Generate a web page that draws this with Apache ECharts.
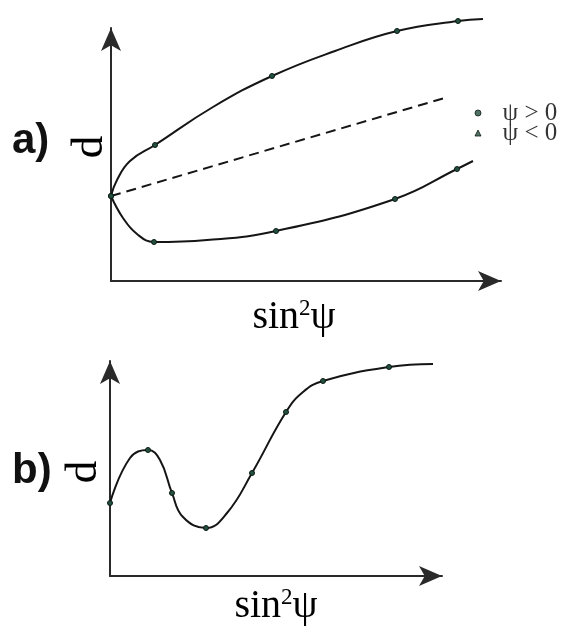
<!DOCTYPE html>
<html><head><meta charset="utf-8">
<script src="https://cdn.jsdelivr.net/npm/echarts@6/dist/echarts.min.js"></script>
<style>html,body{margin:0;padding:0;background:#fff}#c{width:563px;height:630px}</style>
</head><body><div id="c"></div>
<script>
// Panel a) — arbitrary units (sin²ψ, d)
const aUpperX = [0, 6, 19, 44, 102, 161, 224, 286, 347, 372];
const aUpperY = [85, 101, 120, 136, 174, 205, 230, 250, 260, 262];
const aUpperMarked = [0, 3, 5, 7, 8];
const aLowerX = [0, 12, 26, 43, 96, 165, 284, 346, 362];
const aLowerY = [85, 63, 47, 39, 41, 50, 82, 112, 120];
const aLowerMarked = [0, 3, 5, 6, 7];
const aDashX = [0, 337];
const aDashY = [85, 184];
const legendX = [367, 367];
const legendY = [168, 148];
const legendLabels = ['ψ > 0', 'ψ < 0'];
const legendSymbols = ['circle', 'triangle'];
// Panel b)
const bX = [0, 20, 38, 50, 62, 73, 96, 117, 142, 176, 193, 213, 279, 323];
const bY = [73, 118, 126, 116, 83, 59, 48, 63, 103, 164, 184, 195, 209, 212];
const bMarked = [0, 2, 4, 6, 8, 9, 11, 12];

const INK = '#151515';
const AXIS = '#2a2a2a';
const DOT = '#24503f';
const serif = 'Liberation Serif';
function build(xs, ys, marked) {
  return xs.map((x, i) => marked.includes(i)
    ? { value: [x, ys[i]] }
    : { value: [x, ys[i]], symbol: 'none' });
}
const nameRich = {
  a: { fontFamily: serif, fontSize: 40, color: '#000' },
  s: { fontFamily: serif, fontSize: 23, color: '#000', verticalAlign: 'top' }
};
function axisPair(gi, xmax, ymax, xNameGap, xPad) {
  const line = { show: true, lineStyle: { color: AXIS, width: 2 }, symbol: ['none', 'arrow'], symbolSize: [15, 23] };
  return {
    x: { type: 'value', gridIndex: gi, min: 0, max: xmax, axisLine: line,
      axisTick: { show: false }, axisLabel: { show: false }, splitLine: { show: false },
      name: '{a|sin}{s|2}{a|ψ}', nameLocation: 'middle', nameGap: xNameGap,
      nameTextStyle: { padding: xPad, rich: nameRich } },
    y: { type: 'value', gridIndex: gi, min: 0, max: ymax, axisLine: line,
      axisTick: { show: false }, axisLabel: { show: false }, splitLine: { show: false } }
  };
}
const A = axisPair(0, 390, 253, 16, [0, 24, 0, 0]);
const B = axisPair(1, 332, 215, 10, [0, 0, 0, 0]);
const lineBase = { type: 'line', smooth: 0.45, clip: false, symbol: 'circle', symbolSize: 5,
  lineStyle: { color: INK, width: 2 }, itemStyle: { color: DOT, borderColor: '#0a1a12', borderWidth: 1 },
  z: 3, animation: false };

const option = {
  animation: false,
  grid: [
    { left: 111, top: 28, width: 390, height: 253 },
    { left: 110, top: 361, width: 332, height: 215 }
  ],
  xAxis: [A.x, B.x],
  yAxis: [A.y, B.y],
  graphic: [
    { type: 'text', x: 12, y: 141, style: { text: 'a)', font: 'bold 42px "Liberation Sans"', fill: '#111', textVerticalAlign: 'middle' } },
    { type: 'text', x: 12, y: 471, style: { text: 'b)', font: 'bold 42px "Liberation Sans"', fill: '#111', textVerticalAlign: 'middle' } },
    { type: 'text', x: 90, y: 147, rotation: Math.PI / 2, style: { text: 'd', font: '45px "Liberation Serif"', fill: '#000', textAlign: 'center', textVerticalAlign: 'middle' } },
    { type: 'text', x: 84, y: 472, rotation: Math.PI / 2, style: { text: 'd', font: '45px "Liberation Serif"', fill: '#000', textAlign: 'center', textVerticalAlign: 'middle' } }
  ],
  series: [
    Object.assign({}, lineBase, { xAxisIndex: 0, yAxisIndex: 0, data: build(aUpperX, aUpperY, aUpperMarked) }),
    Object.assign({}, lineBase, { xAxisIndex: 0, yAxisIndex: 0, data: build(aLowerX, aLowerY, aLowerMarked) }),
    { type: 'line', xAxisIndex: 0, yAxisIndex: 0, symbol: 'none', clip: false,
      lineStyle: { color: INK, width: 2, type: [10, 6] }, data: aDashX.map((x, i) => [x, aDashY[i]]) },
    { type: 'scatter', xAxisIndex: 0, yAxisIndex: 0, clip: false,
      data: legendX.map((x, i) => ({ value: [x, legendY[i]], symbol: legendSymbols[i], symbolSize: 6 })),
      itemStyle: { color: DOT, borderColor: '#0a1a12', borderWidth: 1 },
      label: { show: true, position: 'right', distance: 21, fontFamily: serif, fontSize: 25, color: '#000',
        formatter: p => legendLabels[p.dataIndex] } },
    Object.assign({}, lineBase, { xAxisIndex: 1, yAxisIndex: 1, data: build(bX, bY, bMarked) })
  ]
};
const chart = echarts.init(document.getElementById('c'), null, { renderer: 'canvas' });
chart.setOption(option);
</script></body></html>
